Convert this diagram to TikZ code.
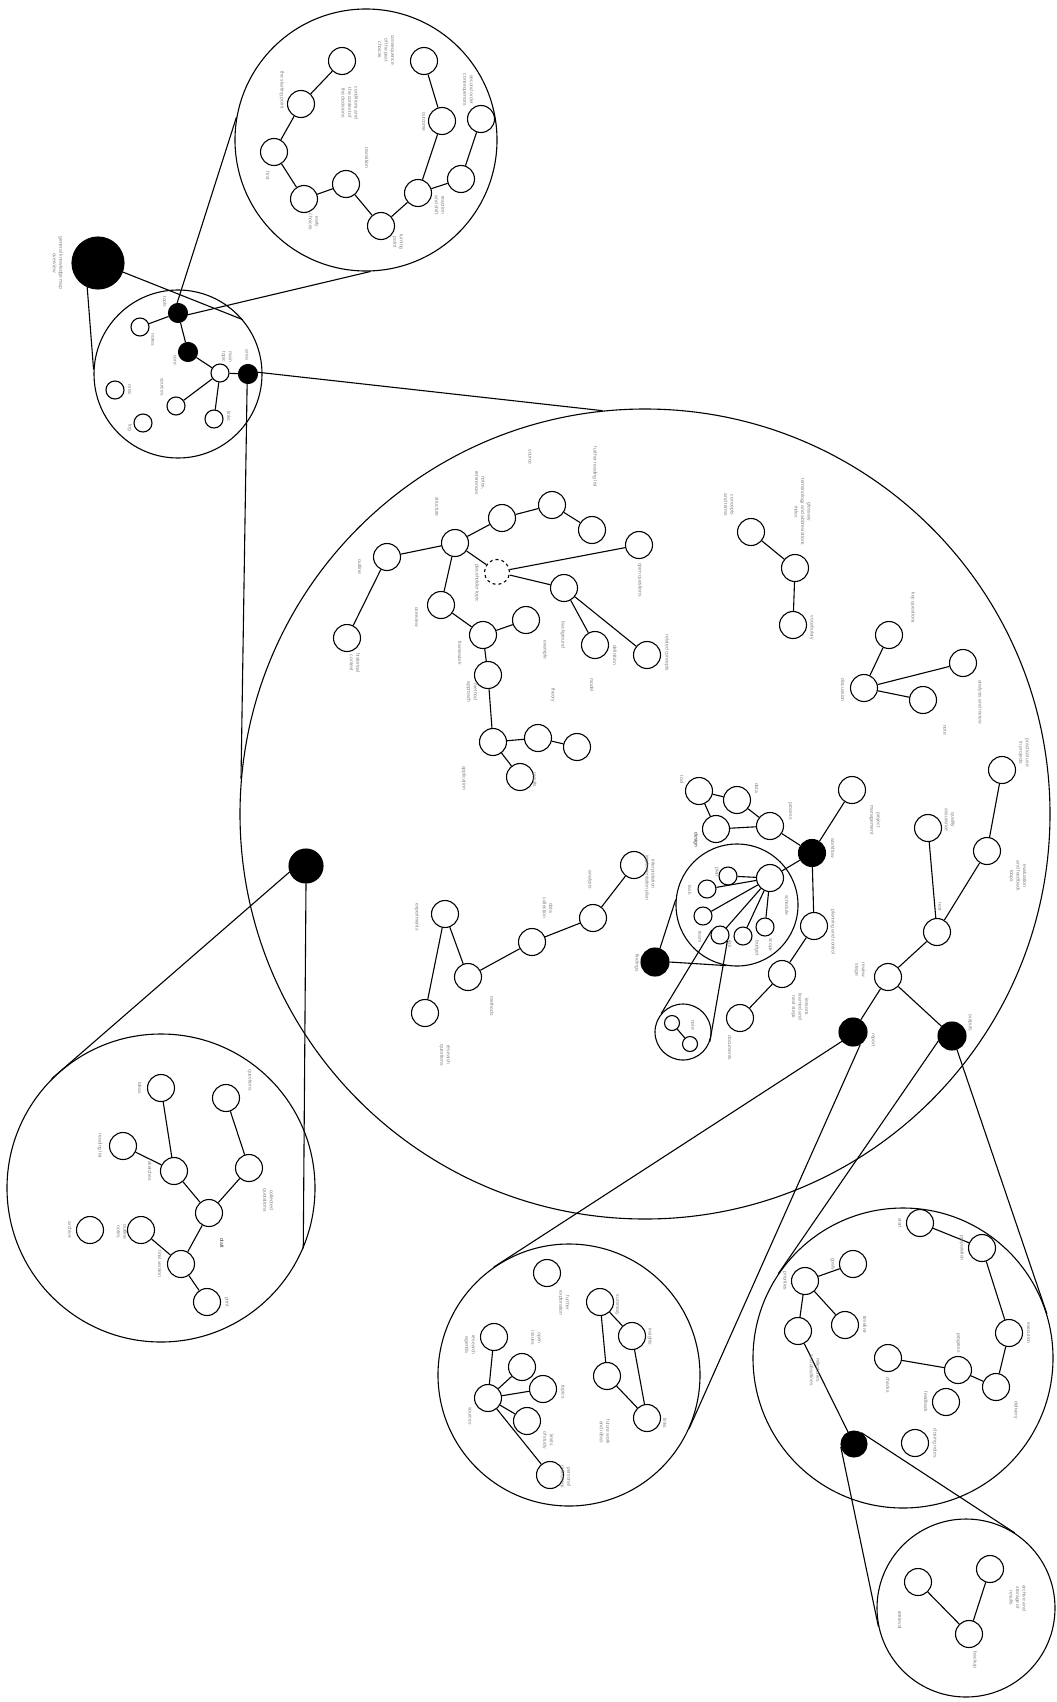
\documentclass[tikz,border=0pt]{standalone}
\usepackage{fontspec}
\setmainfont{Liberation Sans}
\usetikzlibrary{positioning}
\begin{document}
\begin{tikzpicture}[x=1pt,y=-1pt,
  leaf/.style={circle,draw,line width=1.1pt,minimum size=27pt,inner sep=0pt},
  twig/.style={circle,draw,line width=1.1pt,minimum size=18pt,inner sep=0pt},
  knot/.style={circle,draw,fill=black,line width=1.1pt,minimum size=28pt,inner sep=0pt},
  zone/.style={circle,draw,line width=1.1pt,inner sep=0pt},
  lab/.style={font=\fontsize{5}{6.5}\selectfont,text=black!50,rotate=-90,align=center,inner sep=0pt},
  edge/.style={line width=1.1pt}]
\useasboundingbox (0,0) rectangle (1057,1702);

% zones
\node[zone,minimum size=168pt] (A) at (178,374) {};
\node[zone,minimum size=262pt] (B) at (366,140) {};
\node[zone,minimum size=810pt] (C) at (645,814) {};
\node[zone,minimum size=308pt] (D) at (161,1188) {};
\node[zone,minimum size=262pt] (F) at (569,1375) {};
\node[zone,minimum size=300pt] (H) at (903,1358) {};
\node[zone,minimum size=178pt] (J) at (966,1608) {};
\node[zone,minimum size=122pt] (L) at (737,905) {};
\node[zone,minimum size=56pt] (M) at (683,1032) {};

% black hubs
\node[knot,minimum size=52pt] (Z) at (98,263) {};
\node[knot,minimum size=34pt] (E) at (306,866) {};
\node[knot] (G) at (853,1032) {};
\node[knot] (I) at (952,1036) {};
\node[knot,minimum size=26pt] (K) at (854,1444) {};
\node[knot] (N) at (655,962) {};
\node[knot,minimum size=27pt] (O) at (812,853) {};

% callout lines
\draw[edge] (Z.-20) -- (A.40);
\draw[edge] (Z.-114) -- (A.177);
\draw[edge] (E.200) -- (D.135);
\draw[edge] (E.-90) -- (D.-23);
\draw[edge] (G.220) -- (F.125);
\draw[edge] (G.-60) -- (F.-24);
\draw[edge] (I.200) -- (H.146);
\draw[edge] (I.-70) -- (H.17);
\draw[edge] (K.57) -- (J.57);
\draw[edge] (K.-168) -- (J.-168);
\draw[edge] (N.70) -- (L.175);
\draw[edge] (N.0) -- (L.-100);

% small zone A
\node[knot,minimum size=19pt] (a1) at (178,313) {};
\node[twig] (a2) at (140,327) {};
\node[knot,minimum size=19pt] (a3) at (188,352) {};
\node[twig] (a4) at (220,373) {};
\node[knot,minimum size=19pt] (a5) at (248,374) {};
\node[twig] (a6) at (115,390) {};
\node[twig] (a7) at (176,406) {};
\node[twig] (a8) at (214,419) {};
\node[twig] (a9) at (143,423) {};
\draw[edge] (a1) -- (a2);
\draw[edge] (a1) -- (a3);
\draw[edge] (a3) -- (a4);
\draw[edge] (a4) -- (a5);
\draw[edge] (a4) -- (a7);
\draw[edge] (a4) -- (a8);
\draw[edge] (a1.95) -- (B.170);
\draw[edge] (a1.-10) -- (B.-88);
\draw[edge] (a5.10) -- (C.96);
\draw[edge] (a5.-95) -- (C.175);

% zone B
\node[leaf] (b1) at (342,61) {};
\node[leaf] (b2) at (301,104) {};
\node[leaf] (b3) at (274,152) {};
\node[leaf] (b4) at (304,199) {};
\node[leaf] (b5) at (346,184) {};
\node[leaf] (b6) at (381,226) {};
\node[leaf] (b7) at (418,193) {};
\node[leaf] (b8) at (442,121) {};
\node[leaf] (b9) at (424,61) {};
\node[leaf] (b10) at (461,179) {};
\node[leaf] (b11) at (481,119) {};
\draw[edge] (b1) -- (b2) -- (b3) -- (b4) -- (b5) -- (b6) -- (b7) -- (b8) -- (b9);
\draw[edge] (b7) -- (b10) -- (b11);

% zone C
\node[leaf] (c1) at (387,557) {};
\node[leaf] (c2) at (455,543) {};
\node[leaf] (c3) at (502,518) {};
\node[leaf] (c4) at (552,505) {};
\node[leaf] (c5) at (592,530) {};
\node[leaf] (c6) at (639,545) {};
\node[leaf,dashed,minimum size=25pt] (cd) at (497,572) {};
\node[leaf] (c7) at (564,588) {};
\node[leaf] (c8) at (595,645) {};
\node[leaf] (c9) at (647,655) {};
\node[leaf] (c10) at (441,605) {};
\node[leaf] (c11) at (483,635) {};
\node[leaf] (c12) at (526,620) {};
\node[leaf] (c13) at (488,675) {};
\node[leaf] (c14) at (347,638) {};
\node[leaf] (c15) at (493,742) {};
\node[leaf] (c16) at (538,738) {};
\node[leaf] (c17) at (577,747) {};
\node[leaf] (c18) at (520,777) {};
\node[leaf] (c19) at (751,532) {};
\node[leaf] (c20) at (795,568) {};
\node[leaf] (c21) at (793,625) {};
\node[leaf] (c22) at (889,635) {};
\node[leaf] (c23) at (864,688) {};
\node[leaf] (c24) at (963,663) {};
\node[leaf] (c25) at (923,700) {};
\node[leaf] (c26) at (1002,770) {};
\node[leaf] (c27) at (987,851) {};
\node[leaf] (c28) at (937,932) {};
\node[leaf] (c29) at (928,828) {};
\node[leaf] (c30) at (888,977) {};
\node[leaf] (c31) at (445,914) {};
\node[leaf] (c32) at (468,977) {};
\node[leaf] (c33) at (425,1013) {};
\node[leaf] (c34) at (532,942) {};
\node[leaf] (c35) at (593,918) {};
\node[leaf] (c36) at (634,865) {};
\node[leaf] (c37) at (699,791) {};
\node[leaf] (c38) at (737,800) {};
\node[leaf] (c39) at (716,829) {};
\node[leaf] (c40) at (770,826) {};
\node[leaf] (c41) at (852,790) {};
\node[leaf] (c42) at (814,926) {};
\node[leaf] (c43) at (782,974) {};
\node[leaf] (c44) at (740,1018) {};
\draw[edge] (c14) -- (c1) -- (c2) -- (c3) -- (c4) -- (c5);
\draw[edge] (c2) -- (cd) -- (c6);
\draw[edge] (cd) -- (c7) -- (c8);
\draw[edge] (c7) -- (c9);
\draw[edge] (c2) -- (c10) -- (c11) -- (c12);
\draw[edge] (c11) -- (c13) -- (c15) -- (c16) -- (c17);
\draw[edge] (c15) -- (c18);
\draw[edge] (c19) -- (c20) -- (c21);
\draw[edge] (c23) -- (c22);
\draw[edge] (c23) -- (c24);
\draw[edge] (c23) -- (c25);
\draw[edge] (c26) -- (c27) -- (c28) -- (c29);
\draw[edge] (c28) -- (c30) -- (G);
\draw[edge] (c30) -- (I);
\draw[edge] (c33) -- (c31) -- (c32) -- (c34) -- (c35) -- (c36);
\draw[edge] (c37) -- (c38) -- (c40) -- (c39) -- (c37);
\draw[edge] (c40) -- (O) -- (c41);
\draw[edge] (O) -- (c42) -- (c43) -- (c44);

% zone L
\node[leaf] (l0) at (770,878) {};
\node[twig] (l1) at (728,876) {};
\node[twig] (l2) at (707,889) {};
\node[twig] (l3) at (703,916) {};
\node[twig] (l4) at (720,935) {};
\node[twig] (l5) at (743,936) {};
\node[twig] (l6) at (765,927) {};
\foreach \n in {l1,l2,l3,l4,l5,l6}
  \draw[edge] (l0) -- (\n);
\draw[edge] (O) -- (l0);
\draw[edge] (l4.150) -- (M.140);
\draw[edge] (l4.-40) -- (M.-20);

% zone M
\node[twig,minimum size=15pt] (m1) at (672,1023) {};
\node[twig,minimum size=15pt] (m2) at (690,1044) {};
\draw[edge] (m1) -- (m2);

% zone D
\node[leaf] (d1) at (161,1088) {};
\node[leaf] (d2) at (226,1098) {};
\node[leaf] (d3) at (123,1146) {};
\node[leaf] (d4) at (174,1171) {};
\node[leaf] (d5) at (249,1168) {};
\node[leaf] (d6) at (209,1213) {};
\node[leaf] (d7) at (141,1230) {};
\node[leaf] (d8) at (90,1230) {};
\node[leaf] (d9) at (181,1264) {};
\node[leaf] (d10) at (207,1302) {};
\draw[edge] (d1) -- (d4) -- (d3);
\draw[edge] (d4) -- (d6) -- (d5) -- (d2);
\draw[edge] (d6) -- (d9) -- (d7);
\draw[edge] (d9) -- (d10);

% zone F
\node[leaf] (f1) at (547,1273) {};
\node[leaf] (f2) at (600,1302) {};
\node[leaf] (f3) at (632,1336) {};
\node[leaf] (f4) at (607,1376) {};
\node[leaf] (f5) at (647,1418) {};
\node[leaf] (f6) at (494,1337) {};
\node[leaf] (f7) at (522,1367) {};
\node[leaf] (f8) at (543,1389) {};
\node[leaf] (f9) at (488,1398) {};
\node[leaf] (f10) at (527,1421) {};
\node[leaf] (f11) at (550,1475) {};
\draw[edge] (f3) -- (f2) -- (f4) -- (f5) -- (f3);
\foreach \n in {f6,f7,f8,f10,f11}
  \draw[edge] (f9) -- (\n);

% zone H
\node[leaf] (h1) at (920,1223) {};
\node[leaf] (h2) at (982,1248) {};
\node[leaf] (h3) at (853,1264) {};
\node[leaf] (h4) at (805,1281) {};
\node[leaf] (h5) at (845,1325) {};
\node[leaf] (h6) at (798,1331) {};
\node[leaf] (h7) at (1009,1333) {};
\node[leaf] (h8) at (888,1358) {};
\node[leaf] (h9) at (958,1370) {};
\node[leaf] (h10) at (996,1387) {};
\node[leaf] (h11) at (946,1402) {};
\node[leaf] (h12) at (915,1443) {};
\draw[edge] (h1) -- (h2) -- (h7) -- (h10) -- (h9) -- (h8);
\draw[edge] (h4) -- (h5);
\draw[edge] (h6) -- (h4) -- (h3);
\draw[edge] (h6) -- (K);

% zone J
\node[leaf] (j1) at (918,1582) {};
\node[leaf] (j2) at (990,1569) {};
\node[leaf] (j3) at (969,1634) {};
\draw[edge] (j1) -- (j3) -- (j2);

% labels, zone A and Z
\node[lab] (tZ) at (58,263) {general knowledge map\\ overview};
\node[lab] at (165,302) {tools};
\node[lab] at (153,340) {notes};
\node[lab] at (175,360) {core};
\node[lab] at (227,357) {main\\ topic};
\node[lab] at (247,355) {area};
\node[lab] at (130,390) {misc};
\node[lab] at (162,387) {sources};
\node[lab] at (229,416) {links};
\node[lab] at (130,428) {log};
% labels, zone B
\node[lab] at (386,50) {consequence\\ of the past\\ choices};
\node[lab] at (350,103) {conditions and\\ the context of\\ the decisions};
\node[lab] at (282,90) {the starting point};
\node[lab] at (367,158) {transition};
\node[lab] at (268,176) {first};
\node[lab] at (314,222) {early\\ choices};
\node[lab] at (398,242) {turning\\ point};
\node[lab] at (424,122) {outcome};
\node[lab] at (440,205) {reaction\\ and shift};
\node[lab] at (468,90) {second order\\ consequences};
% labels, zone C
\node[lab] at (530,457) {source};
\node[lab] at (480,483) {notes,\\ references};
\node[lab] at (595,467) {further reading list};
\node[lab] at (437,507) {structure};
\node[lab] at (360,567) {outline};
\node[lab] at (477,583) {placeholder topic};
\node[lab] at (640,580) {open questions};
\node[lab] at (417,617) {overview};
\node[lab] at (460,653) {framework};
\node[lab] at (545,650) {example};
\node[lab] at (563,635) {background};
\node[lab] at (615,655) {definition};
\node[lab] at (667,653) {related concepts};
\node[lab] at (355,663) {historical\\ context};
\node[lab] at (472,692) {method\\ approach};
\node[lab] at (553,695) {theory};
\node[lab] at (592,685) {model};
\node[lab] at (464,778) {application};
\node[lab] at (535,780) {results};
\node[lab] at (729,505) {concepts\\ and terms};
\node[lab] at (803,512) {glossary\\ terminology and abbreviations\\ index};
\node[lab] at (812,628) {vocabulary};
\node[lab] at (913,608) {key questions};
\node[lab] at (843,690) {discussion};
\node[lab] at (945,730) {note};
\node[lab] at (980,702) {analysis and review};
\node[lab] at (1024,753) {practical use\\ in projects};
\node[lab] at (417,917) {experiments};
\node[lab] at (548,908) {data\\ collection};
\node[lab] at (590,880) {analysis};
\node[lab] at (653,874) {interpretation};
\node[lab] at (637,963) {findings};
\node[lab] at (492,1006) {methods};
\node[lab] at (445,1055) {research\\ questions};
\node[lab] at (682,780) {tool};
\node[lab] at (757,788) {data};
\node[lab] at (790,811) {process};
\node[lab,text=black!80] at (696,840) {design};
\node[lab] at (833,848) {workflow};
\node[lab] at (875,820) {project\\ management};
\node[lab] at (717,872) {plan};
\node[lab] at (690,890) {task};
\node[lab] at (787,905) {schedule};
\node[lab] at (700,937) {team};
\node[lab] at (730,944) {risk};
\node[lab] at (757,948) {budget};
\node[lab] at (770,945) {scope};
\node[lab] at (833,932) {planning and control};
\node[lab] at (647,878) {implementation plan};
\node[lab] at (950,820) {quality\\ assurance};
\node[lab] at (940,907) {test};
\node[lab] at (1018,876) {evaluation\\ and feedback\\ loops};
\node[lab] at (860,970) {review\\ stage};
\node[lab] at (800,1007) {lessons\\ learned and\\ next steps};
\node[lab] at (873,1040) {report};
\node[lab] at (970,1023) {outputs};
\node[lab] at (730,1048) {documents};
\node[lab] at (693,1025) {note};
% labels, zone D
\node[lab] at (140,1088) {ideas};
\node[lab] at (250,1080) {questions};
\node[lab] at (100,1146) {reading list};
\node[lab] at (150,1171) {sketches};
\node[lab] at (268,1200) {collected\\ quotations};
\node[lab,text=black!80] at (222,1243) {draft};
\node[lab] at (122,1232) {outline\\ notes};
\node[lab] at (70,1230) {archive};
\node[lab] at (160,1264) {final version};
\node[lab] at (227,1302) {print};
% labels, zone F
\node[lab] at (564,1303) {further\\ exploration};
\node[lab] at (617,1305) {summary};
\node[lab] at (650,1337) {insights};
\node[lab] at (605,1432) {future work\\ and ideas};
\node[lab] at (665,1423) {links};
\node[lab] at (536,1338) {open\\ issues};
\node[lab] at (470,1345) {research\\ agenda};
\node[lab] at (563,1392) {topics};
\node[lab] at (548,1440) {limits\\ of study};
\node[lab] at (470,1416) {sources};
\node[lab] at (566,1477) {personal\\ reflections};
% labels, zone H
\node[lab] at (900,1223) {start};
\node[lab] at (962,1248) {preparation};
\node[lab] at (833,1264) {goals};
\node[lab] at (785,1281) {priorities};
\node[lab] at (865,1325) {timeline};
\node[lab] at (815,1370) {milestones\\ and deadlines};
\node[lab] at (1029,1333) {execution};
\node[lab] at (888,1385) {checks};
\node[lab] at (958,1343) {progress};
\node[lab] at (1016,1410) {delivery};
\node[lab] at (926,1402) {feedback};
\node[lab] at (935,1443) {closing notes};
% labels, zone J
\node[lab] at (1018,1598) {archive and\\ storage of\\ results};
\node[lab] at (975,1660) {backup};
\node[lab] at (900,1620) {retrieval};
\end{tikzpicture}
\end{document}
